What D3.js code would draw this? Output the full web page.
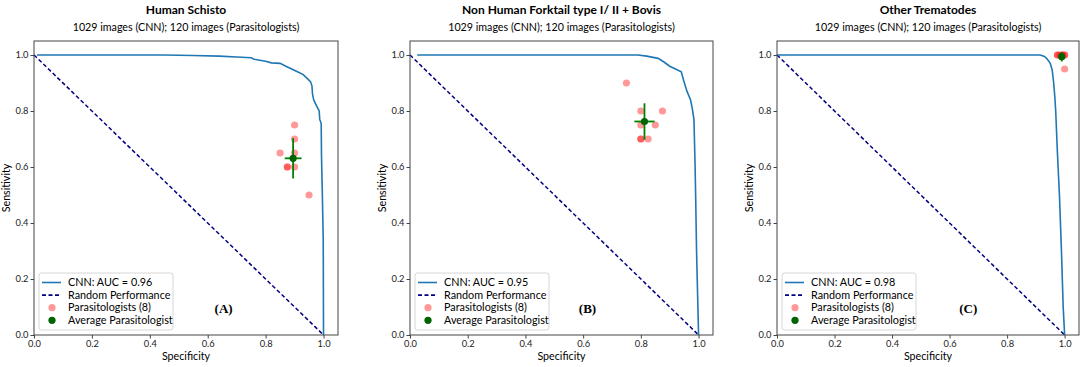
<!DOCTYPE html>
<html>
<head>
<meta charset="utf-8">
<script src="https://cdn.jsdelivr.net/npm/d3@7"></script>
<style>
  body { margin: 0; background: #fff; }
  svg { display: block; }
</style>
</head>
<body>
<svg id="roc" width="1084" height="367"></svg>
<script>
// ---- data ----
var panelTitles = ["Human Schisto", "Non Human Forktail type I/ II + Bovis", "Other Trematodes"];
var panelSubtitle = "1029 images (CNN); 120 images (Parasitologists)";
var aucValues = [0.96, 0.95, 0.98];
var panelLetters = ["(A)", "(B)", "(C)"];
var letterPos = [[0.655, 0.08], [0.615, 0.08], [0.665, 0.08]];
var tickValues = [0.0, 0.2, 0.4, 0.6, 0.8, 1.0];

// ROC curves (specificity, sensitivity)
var rocSpecA = [0.01, 0.45, 0.55, 0.64, 0.70, 0.75, 0.76, 0.80, 0.82, 0.85, 0.87, 0.89, 0.91, 0.93, 0.945, 0.955, 0.96, 0.962, 0.966, 0.975, 0.985, 0.987, 0.992, 0.993, 0.996, 0.999, 1.0];
var rocSensA = [1.0, 1.0, 0.998, 0.996, 0.993, 0.99, 0.985, 0.978, 0.972, 0.97, 0.96, 0.95, 0.94, 0.93, 0.915, 0.905, 0.89, 0.86, 0.84, 0.82, 0.80, 0.77, 0.755, 0.64, 0.5, 0.34, 0.0];
var rocSpecB = [0.025, 0.79, 0.82, 0.86, 0.88, 0.90, 0.92, 0.94, 0.948, 0.96, 0.972, 0.978, 0.984, 0.988, 0.99, 0.993, 1.0];
var rocSensB = [1.0, 1.0, 0.996, 0.988, 0.975, 0.96, 0.95, 0.94, 0.91, 0.87, 0.84, 0.81, 0.77, 0.6, 0.49, 0.3, 0.0];
var rocSpecC = [0.0, 0.915, 0.93, 0.94, 0.95, 0.957, 0.962, 0.966, 0.969, 0.975, 0.982, 0.989, 0.995, 1.0];
var rocSensC = [1.0, 1.0, 0.995, 0.985, 0.97, 0.945, 0.9, 0.85, 0.80, 0.65, 0.5, 0.3, 0.1, 0.0];

// individual parasitologists
var parasSpecA = [0.90, 0.90, 0.85, 0.90, 0.875, 0.875, 0.90, 0.95];
var parasSensA = [0.75, 0.70, 0.65, 0.65, 0.60, 0.60, 0.60, 0.50];
var parasSpecB = [0.75, 0.80, 0.875, 0.80, 0.85, 0.80, 0.80, 0.825];
var parasSensB = [0.90, 0.80, 0.80, 0.75, 0.75, 0.70, 0.70, 0.70];
var parasSpecC = [0.975, 0.975, 0.983, 0.992, 0.992, 1.0, 1.0, 1.0];
var parasSensC = [1.0, 1.0, 1.0, 1.0, 1.0, 1.0, 0.95, 1.0];

// average parasitologist with error bars
var avgSpec = [0.895, 0.8125, 0.99];
var avgSens = [0.631, 0.7625, 0.994];
var errSpec = [0.029, 0.035, 0.008];
var errSens = [0.072, 0.065, 0.017];

// ---- layout ----
var xRanges = [[34, 338], [410, 713], [777, 1079]];
var plotTop = 41, plotBottom = 335;

var rocSpec = [rocSpecA, rocSpecB, rocSpecC];
var rocSens = [rocSensA, rocSensB, rocSensC];
var parasSpec = [parasSpecA, parasSpecB, parasSpecC];
var parasSens = [parasSensA, parasSensB, parasSensC];

var svg = d3.select("#roc");
var font = "Lato, 'Open Sans', sans-serif";

var y = d3.scaleLinear().domain([0, 1.05]).range([plotBottom, plotTop]);

panelTitles.forEach(function(title, i) {
  var x = d3.scaleLinear().domain([0, 1.05]).range(xRanges[i]);
  var g = svg.append("g");
  var cx = (xRanges[i][0] + xRanges[i][1]) / 2;

  // titles
  g.append("text")
    .attr("x", cx).attr("y", 14)
    .attr("text-anchor", "middle")
    .attr("font-family", font).attr("font-weight", "bold").attr("font-size", 12)
    .text(title);
  g.append("text")
    .attr("x", cx).attr("y", 31)
    .attr("text-anchor", "middle")
    .attr("font-family", font).attr("font-size", 10.7)
    .text(panelSubtitle);

  // axes
  var xAxis = g.append("g")
    .attr("transform", "translate(0," + plotBottom + ")")
    .call(d3.axisBottom(x).tickValues(tickValues).tickFormat(d3.format(".1f")).tickSize(3.5).tickPadding(2))
    .call(a => a.select(".domain").remove());
  var yAxis = g.append("g")
    .attr("transform", "translate(" + xRanges[i][0] + ",0)")
    .call(d3.axisLeft(y).tickValues(tickValues).tickFormat(d3.format(".1f")).tickSize(3.5).tickPadding(2))
    .call(a => a.select(".domain").remove());
  [xAxis, yAxis].forEach(function(a) {
    a.selectAll("text").attr("font-family", font).attr("font-size", 9.3).attr("fill", "#222");
    a.selectAll("line").attr("stroke", "#444");
  });

  g.append("text")
    .attr("x", cx).attr("y", 360)
    .attr("text-anchor", "middle")
    .attr("font-family", font).attr("font-size", 10.7)
    .text("Specificity");
  g.append("text")
    .attr("transform", "translate(" + (xRanges[i][0] - 24) + "," + ((plotTop + plotBottom) / 2) + ") rotate(-90)")
    .attr("text-anchor", "middle")
    .attr("font-family", font).attr("font-size", 10.7)
    .text("Sensitivity");

  // random performance
  g.append("line")
    .attr("x1", x(0)).attr("y1", y(1))
    .attr("x2", x(1)).attr("y2", y(0))
    .attr("stroke", "navy").attr("stroke-width", 1.5)
    .attr("stroke-dasharray", "4,2.5");

  // ROC curve
  var pts = rocSpec[i].map((s, k) => [s, rocSens[i][k]]);
  g.append("path")
    .datum(pts)
    .attr("fill", "none")
    .attr("stroke", "#1f77b4").attr("stroke-width", 1.6)
    .attr("d", d3.line().x(d => x(d[0])).y(d => y(d[1])));

  // parasitologists
  var pp = parasSpec[i].map((s, k) => [s, parasSens[i][k]]);
  g.selectAll(".paras")
    .data(pp)
    .join("circle")
    .attr("class", "paras")
    .attr("cx", d => x(d[0])).attr("cy", d => y(d[1]))
    .attr("r", 3.6)
    .attr("fill", "red").attr("fill-opacity", 0.4);

  // average + error bars
  g.append("line")
    .attr("x1", x(avgSpec[i])).attr("x2", x(avgSpec[i]))
    .attr("y1", y(avgSens[i] - errSens[i])).attr("y2", y(avgSens[i] + errSens[i]))
    .attr("stroke", "green").attr("stroke-width", 1.8);
  g.append("line")
    .attr("x1", x(avgSpec[i] - errSpec[i])).attr("x2", x(avgSpec[i] + errSpec[i]))
    .attr("y1", y(avgSens[i])).attr("y2", y(avgSens[i]))
    .attr("stroke", "green").attr("stroke-width", 1.8);
  g.append("circle")
    .attr("cx", x(avgSpec[i])).attr("cy", y(avgSens[i]))
    .attr("r", 3.6)
    .attr("fill", "darkgreen");

  // panel letter
  g.append("text")
    .attr("x", x(letterPos[i][0])).attr("y", y(letterPos[i][1]))
    .attr("text-anchor", "middle")
    .attr("font-family", "'Liberation Serif', 'Times New Roman', serif")
    .attr("font-weight", "bold").attr("font-size", 13)
    .text(panelLetters[i]);

  // frame
  g.append("rect")
    .attr("x", xRanges[i][0]).attr("y", plotTop)
    .attr("width", xRanges[i][1] - xRanges[i][0]).attr("height", plotBottom - plotTop)
    .attr("fill", "none").attr("stroke", "#444").attr("stroke-width", 1);

  // legend
  var lx = xRanges[i][0] + 5, ly = plotBottom - 62;
  var lg = g.append("g").attr("transform", "translate(" + lx + "," + ly + ")");
  lg.append("rect")
    .attr("width", 134).attr("height", 57).attr("rx", 2.5)
    .attr("fill", "white").attr("fill-opacity", 0.9)
    .attr("stroke", "#ccc").attr("stroke-width", 0.8);
  var items = [
    { label: "CNN: AUC = " + aucValues[i].toFixed(2), kind: "line", color: "#1f77b4" },
    { label: "Random Performance", kind: "dash", color: "navy" },
    { label: "Parasitologists (8)", kind: "dot", color: "red", op: 0.4 },
    { label: "Average Parasitologist", kind: "dot", color: "darkgreen", op: 1 }
  ];
  items.forEach(function(it, k) {
    var ry = 9.5 + k * 12.6;
    if (it.kind === "dot") {
      lg.append("circle").attr("cx", 13).attr("cy", ry).attr("r", 3.6)
        .attr("fill", it.color).attr("fill-opacity", it.op);
    } else {
      lg.append("line").attr("x1", 3).attr("x2", 22).attr("y1", ry).attr("y2", ry)
        .attr("stroke", it.color).attr("stroke-width", 1.6)
        .attr("stroke-dasharray", it.kind === "dash" ? "4,2.5" : null);
    }
    lg.append("text")
      .attr("x", 29).attr("y", ry).attr("dy", "0.35em")
      .attr("font-family", font).attr("font-size", 10.8)
      .text(it.label);
  });
});
</script>
</body>
</html>
